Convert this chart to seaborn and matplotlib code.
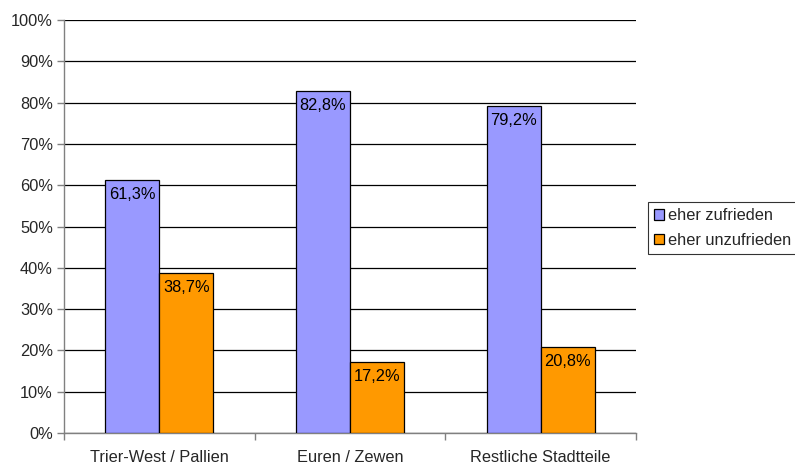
import pandas as pd
import seaborn as sns
import matplotlib.pyplot as plt
from matplotlib.ticker import MultipleLocator, PercentFormatter

# Daten
categories = ["Trier-West / Pallien", "Euren / Zewen", "Restliche Stadtteile"]
series = ["eher zufrieden", "eher unzufrieden"]
zufrieden = [61.3, 82.8, 79.2]
unzufrieden = [38.7, 17.2, 20.8]
colors = ["#9999FF", "#FF9900"]

df = pd.DataFrame({
    "Stadtteil": categories * 2,
    "Antwort": [series[0]] * 3 + [series[1]] * 3,
    "Anteil": zufrieden + unzufrieden,
})

sns.set_style("white")
plt.rcParams["font.family"] = ["Liberation Sans", "DejaVu Sans"]
fs = 11.8

fig = plt.figure(figsize=(7.95, 4.68), dpi=100)
ax = fig.add_axes([64 / 795, 1 - 433 / 468, (636 - 64) / 795, (433 - 20) / 468])

sns.barplot(data=df, x="Stadtteil", y="Anteil", hue="Antwort",
            palette=colors, width=0.567, gap=0, edgecolor="black",
            linewidth=0.9, saturation=1, ax=ax, zorder=3)

# Werte oben in den Balken
for cont in ax.containers:
    for bar in cont:
        h = bar.get_height()
        ax.annotate(f"{h:.1f}%".replace(".", ","),
                    (bar.get_x() + bar.get_width() / 2, h),
                    xytext=(0, -5), textcoords="offset points",
                    ha="center", va="top", fontsize=fs, color="black", zorder=4)

ax.set_ylim(0, 100)
ax.set_xlim(-0.5, 2.5)
ax.yaxis.set_major_locator(MultipleLocator(10))
ax.yaxis.set_major_formatter(PercentFormatter(decimals=0))
ax.grid(axis="y", color="black", linewidth=0.9, zorder=0)
ax.set_axisbelow(True)

ax.set_xlabel("")
ax.set_ylabel("")
for s in ["top", "right"]:
    ax.spines[s].set_visible(False)
for s in ["left", "bottom"]:
    ax.spines[s].set_color("#808080")
    ax.spines[s].set_linewidth(1)

ax.tick_params(axis="y", which="major", direction="out", length=5, width=1,
               color="#808080", left=True, labelsize=fs, pad=3)
ax.set_xticks(range(3))
ax.set_xticklabels(categories)
ax.tick_params(axis="x", which="major", length=0, labelsize=fs, pad=12)
ax.set_xticks([-0.5, 0.5, 1.5, 2.5], minor=True)
ax.tick_params(axis="x", which="minor", direction="out", length=5, width=1,
               color="#808080", bottom=True)

ax.get_legend().remove()
handles, labels = ax.get_legend_handles_labels()
leg = fig.legend(handles, labels, loc="center left",
                 bbox_to_anchor=(648 / 795, 1 - 228 / 468),
                 frameon=True, fancybox=False, edgecolor="black",
                 fontsize=fs, handlelength=0.6, handleheight=0.6,
                 handletextpad=0.3, borderpad=0.35, labelspacing=0.6,
                 borderaxespad=0)
leg.get_frame().set_linewidth(0.8)

fig.savefig("out.png", dpi=100)
